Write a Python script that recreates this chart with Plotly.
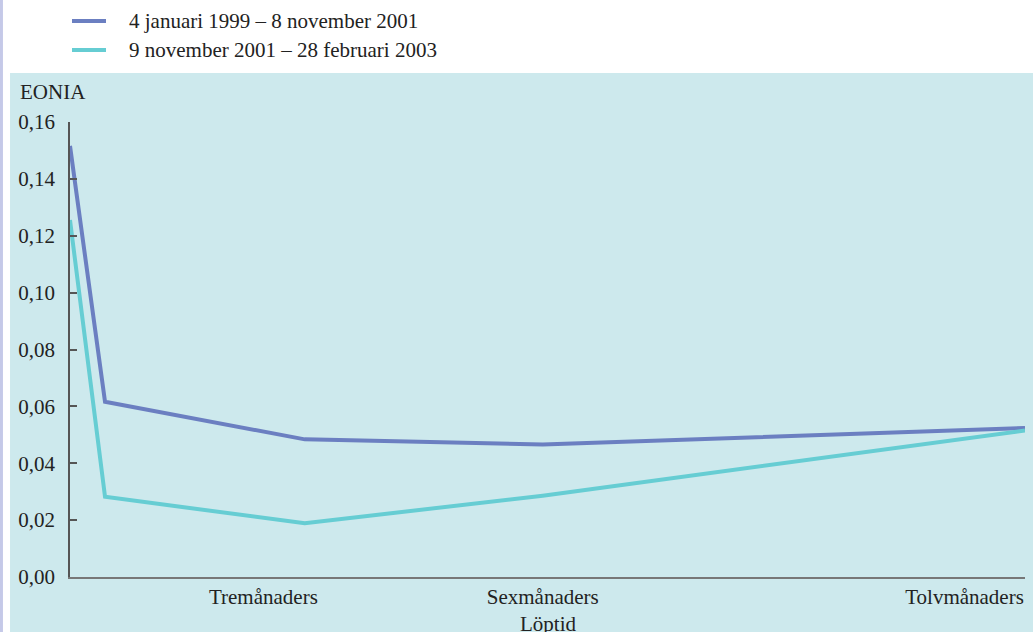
import plotly.graph_objects as go

# löptid i månader (0 = EONIA / dagslån)
loptid = [0, 0.44, 2.95, 5.94, 12]
period1 = [0.1516, 0.0616, 0.0484, 0.0466, 0.0524]
period2 = [0.1255, 0.0282, 0.0189, 0.0286, 0.0515]
namn = ["4 januari 1999 – 8 november 2001", "9 november 2001 – 28 februari 2003"]
farger = ["#6b7fc1", "#66cdd3"]

tick_pos = [2.43, 5.94, 11.24]
tick_txt = ["Tremånaders", "Sexmånaders", "Tolvmånaders"]
y_ticks = [0, 0.02, 0.04, 0.06, 0.08, 0.10, 0.12, 0.14, 0.16]

FONT = "Liberation Serif"

fig = go.Figure()
for serie, n, f in zip([period1, period2], namn, farger):
    fig.add_trace(go.Scatter(x=loptid, y=serie, mode="lines", name=n,
                             line=dict(color=f, width=4), showlegend=False))

# bakgrundspanel och vänsterkant
fig.add_shape(type="rect", xref="paper", yref="paper", layer="below",
              x0=-0.0628, x1=1.0084, y0=-0.1209, y1=1.1077,
              fillcolor="#cde9ed", line_width=0)
fig.add_shape(type="rect", xref="paper", yref="paper", layer="below",
              x0=-0.0733, x1=-0.0702, y0=-0.1209, y1=1.27,
              fillcolor="#c5c9e8", line_width=0)

# förklaring ovanför panelen
for i, (n, f) in enumerate(zip(namn, farger)):
    yy = 1.222 - i * 0.0637
    fig.add_shape(type="line", xref="paper", yref="paper",
                  x0=0.0021, x1=0.0377, y0=yy, y1=yy,
                  line=dict(color=f, width=4))
    fig.add_annotation(text=n, xref="paper", yref="paper", x=0.0597, y=yy,
                       xanchor="left", yanchor="middle", showarrow=False,
                       font=dict(family=FONT, size=21, color="#222"))

fig.add_annotation(text="EONIA", xref="paper", yref="paper", x=-0.0545, y=1.066,
                   xanchor="left", yanchor="middle", showarrow=False,
                   font=dict(family=FONT, size=21, color="#222"))
fig.add_annotation(text="Löptid", xref="paper", yref="paper", x=0.5, y=-0.103,
                   xanchor="center", yanchor="middle", showarrow=False,
                   font=dict(family=FONT, size=21, color="#222"))

fig.update_layout(
    width=1033, height=632,
    margin=dict(l=70, r=8, t=122, b=55),
    paper_bgcolor="white", plot_bgcolor="rgba(0,0,0,0)",
    separators=", ",
    font=dict(family=FONT, size=21, color="#222"),
    xaxis=dict(range=[0, 12], showgrid=False, zeroline=False,
               showline=True, linecolor="#777", linewidth=2,
               tickvals=tick_pos, ticktext=tick_txt, ticks=""),
    yaxis=dict(range=[0, 0.16], showgrid=False, zeroline=False,
               showline=True, linecolor="#555", linewidth=1.5,
               tickvals=y_ticks, tickformat=".2f",
               ticks="inside", ticklen=7, tickcolor="#555", tickwidth=1.5,
               ticklabelstandoff=9),
)

fig.write_html("out.html", config={"displayModeBar": False},
               post_script="document.body.style.margin='0';"
                           "document.body.style.overflow='hidden';")
